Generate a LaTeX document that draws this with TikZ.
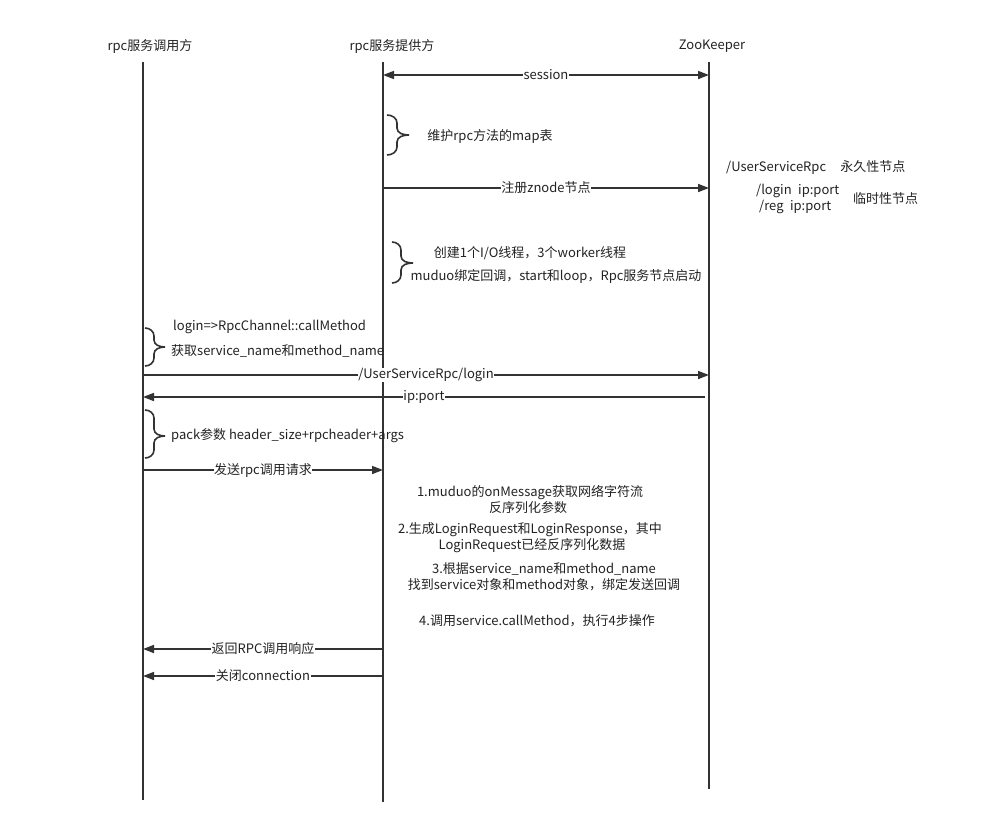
\documentclass[tikz,border=0pt]{standalone}
\usepackage{fontspec}
\setmainfont{Noto Sans CJK SC}
\usetikzlibrary{arrows.meta}
\definecolor{ln}{HTML}{333333}
\definecolor{tx}{HTML}{222222}
\begin{document}
\begin{tikzpicture}[x=1pt,y=-1pt,
  every node/.style={font=\fontsize{13}{15}\selectfont, text=tx, inner sep=1pt},
  life/.style={draw=ln, line width=1.6pt},
  msg/.style={draw=ln, line width=1.6pt, -{Triangle[length=11pt,width=8pt]}},
  bimsg/.style={draw=ln, line width=1.6pt, {Triangle[length=11pt,width=8pt]}-{Triangle[length=11pt,width=8pt]}},
  lbl/.style={fill=white, inner sep=0.5pt},
  brc/.style={draw=ln, line width=1.6pt}]
\useasboundingbox (0,0) rectangle (991,827);
% headers
\node (hA) at (150,46) {rpc服务调用方};
\node (hB) at (392,46) {rpc服务提供方};
\node (hC) at (712,46) {ZooKeeper};
% lifelines
\coordinate (aT) at (143,62); \coordinate (aB) at (143,800);
\coordinate (bT) at (383,62); \coordinate (bB) at (383,802);
\coordinate (cT) at (709,62); \coordinate (cB) at (709,789);
\draw[life] (aT) -- (aB);
\draw[life] (bT) -- (bB);
\draw[life] (cT) -- (cB);
% session
\coordinate (s1) at (383,75); \coordinate (s2) at (709,75);
\draw[bimsg] (s1) -- node[lbl] (sl) {session} (s2);
% brace 1
\draw[brc] (387,115) to[out=0,in=90] (397,123) -- (397,128) to[out=-90,in=180] (409,135)
  to[out=180,in=90] (397,142) -- (397,147) to[out=-90,in=0] (387,155);
\node (t1) at (490,136) {维护rpc方法的map表};
% register
\coordinate (r1) at (383,188); \coordinate (r2) at (709,188);
\draw[msg] (r1) -- node[lbl] (rl) {注册znode节点} (r2);
% zk texts
\node[anchor=west] (z1) at (725,168) {/UserServiceRpc\hspace{1.1em}永久性节点};
\node[anchor=west] (z2) at (755,191) {/login\hspace{0.5em}ip:port};
\node[anchor=west] (z3) at (758,207) {/reg\hspace{0.5em}ip:port};
\node[anchor=west] (z4) at (852,199) {临时性节点};
% brace 2
\draw[brc] (392,242) to[out=0,in=90] (401,250) -- (401,256) to[out=-90,in=180] (413,263)
  to[out=180,in=90] (401,270) -- (401,275) to[out=-90,in=0] (392,283);
\node (t2) at (530,253) {创建1个I/O线程，3个worker线程};
\node (t3) at (556,276) {muduo绑定回调，start和loop，Rpc服务节点启动};
% brace 3
\draw[brc] (145,328) to[out=0,in=90] (154,336) -- (154,340) to[out=-90,in=180] (165,347)
  to[out=180,in=90] (154,354) -- (154,358) to[out=-90,in=0] (145,366);
\node[anchor=west] (t4) at (172,327) {login=>RpcChannel::callMethod};
\node[anchor=west] (t5) at (170,351) {获取service\_name和method\_name};
% login msg
\coordinate (l1) at (143,375); \coordinate (l2) at (709,375);
\draw[msg] (l1) -- node[lbl] (ll) {/UserServiceRpc/login} (l2);
\coordinate (p1) at (705,397); \coordinate (p2) at (143,397);
\draw[msg] (p1) -- node[lbl] (pl) {ip:port} (p2);
% brace 4
\draw[brc] (145,410) to[out=0,in=90] (154,418) -- (154,429) to[out=-90,in=180] (165,436)
  to[out=180,in=90] (154,443) -- (154,450) to[out=-90,in=0] (145,458);
\node[anchor=west] (t6) at (170,436) {pack参数 header\_size+rpcheader+args};
% send
\coordinate (q1) at (143,470); \coordinate (q2) at (383,470);
\draw[msg] (q1) -- node[lbl] (ql) {发送rpc调用请求} (q2);
% provider steps
\node (u1) at (530,493) {1.muduo的onMessage获取网络字符流};
\node (u2) at (528,508) {反序列化参数};
\node (u3) at (530,530) {2.生成LoginRequest和LoginResponse，其中};
\node (u4) at (532,546) {LoginRequest已经反序列化数据};
\node (u5) at (544,569) {3.根据service\_name和method\_name};
\node (u6) at (544,585) {找到service对象和method对象，绑定发送回调};
\node (u7) at (537,621) {4.调用service.callMethod，执行4步操作};
% responses
\coordinate (v1) at (383,649); \coordinate (v2) at (143,649);
\draw[msg] (v1) -- node[lbl] (vl) {返回RPC调用响应} (v2);
\coordinate (w1) at (383,676); \coordinate (w2) at (143,676);
\draw[msg] (w1) -- node[lbl] (wl) {关闭connection} (w2);
\end{tikzpicture}
\end{document}
